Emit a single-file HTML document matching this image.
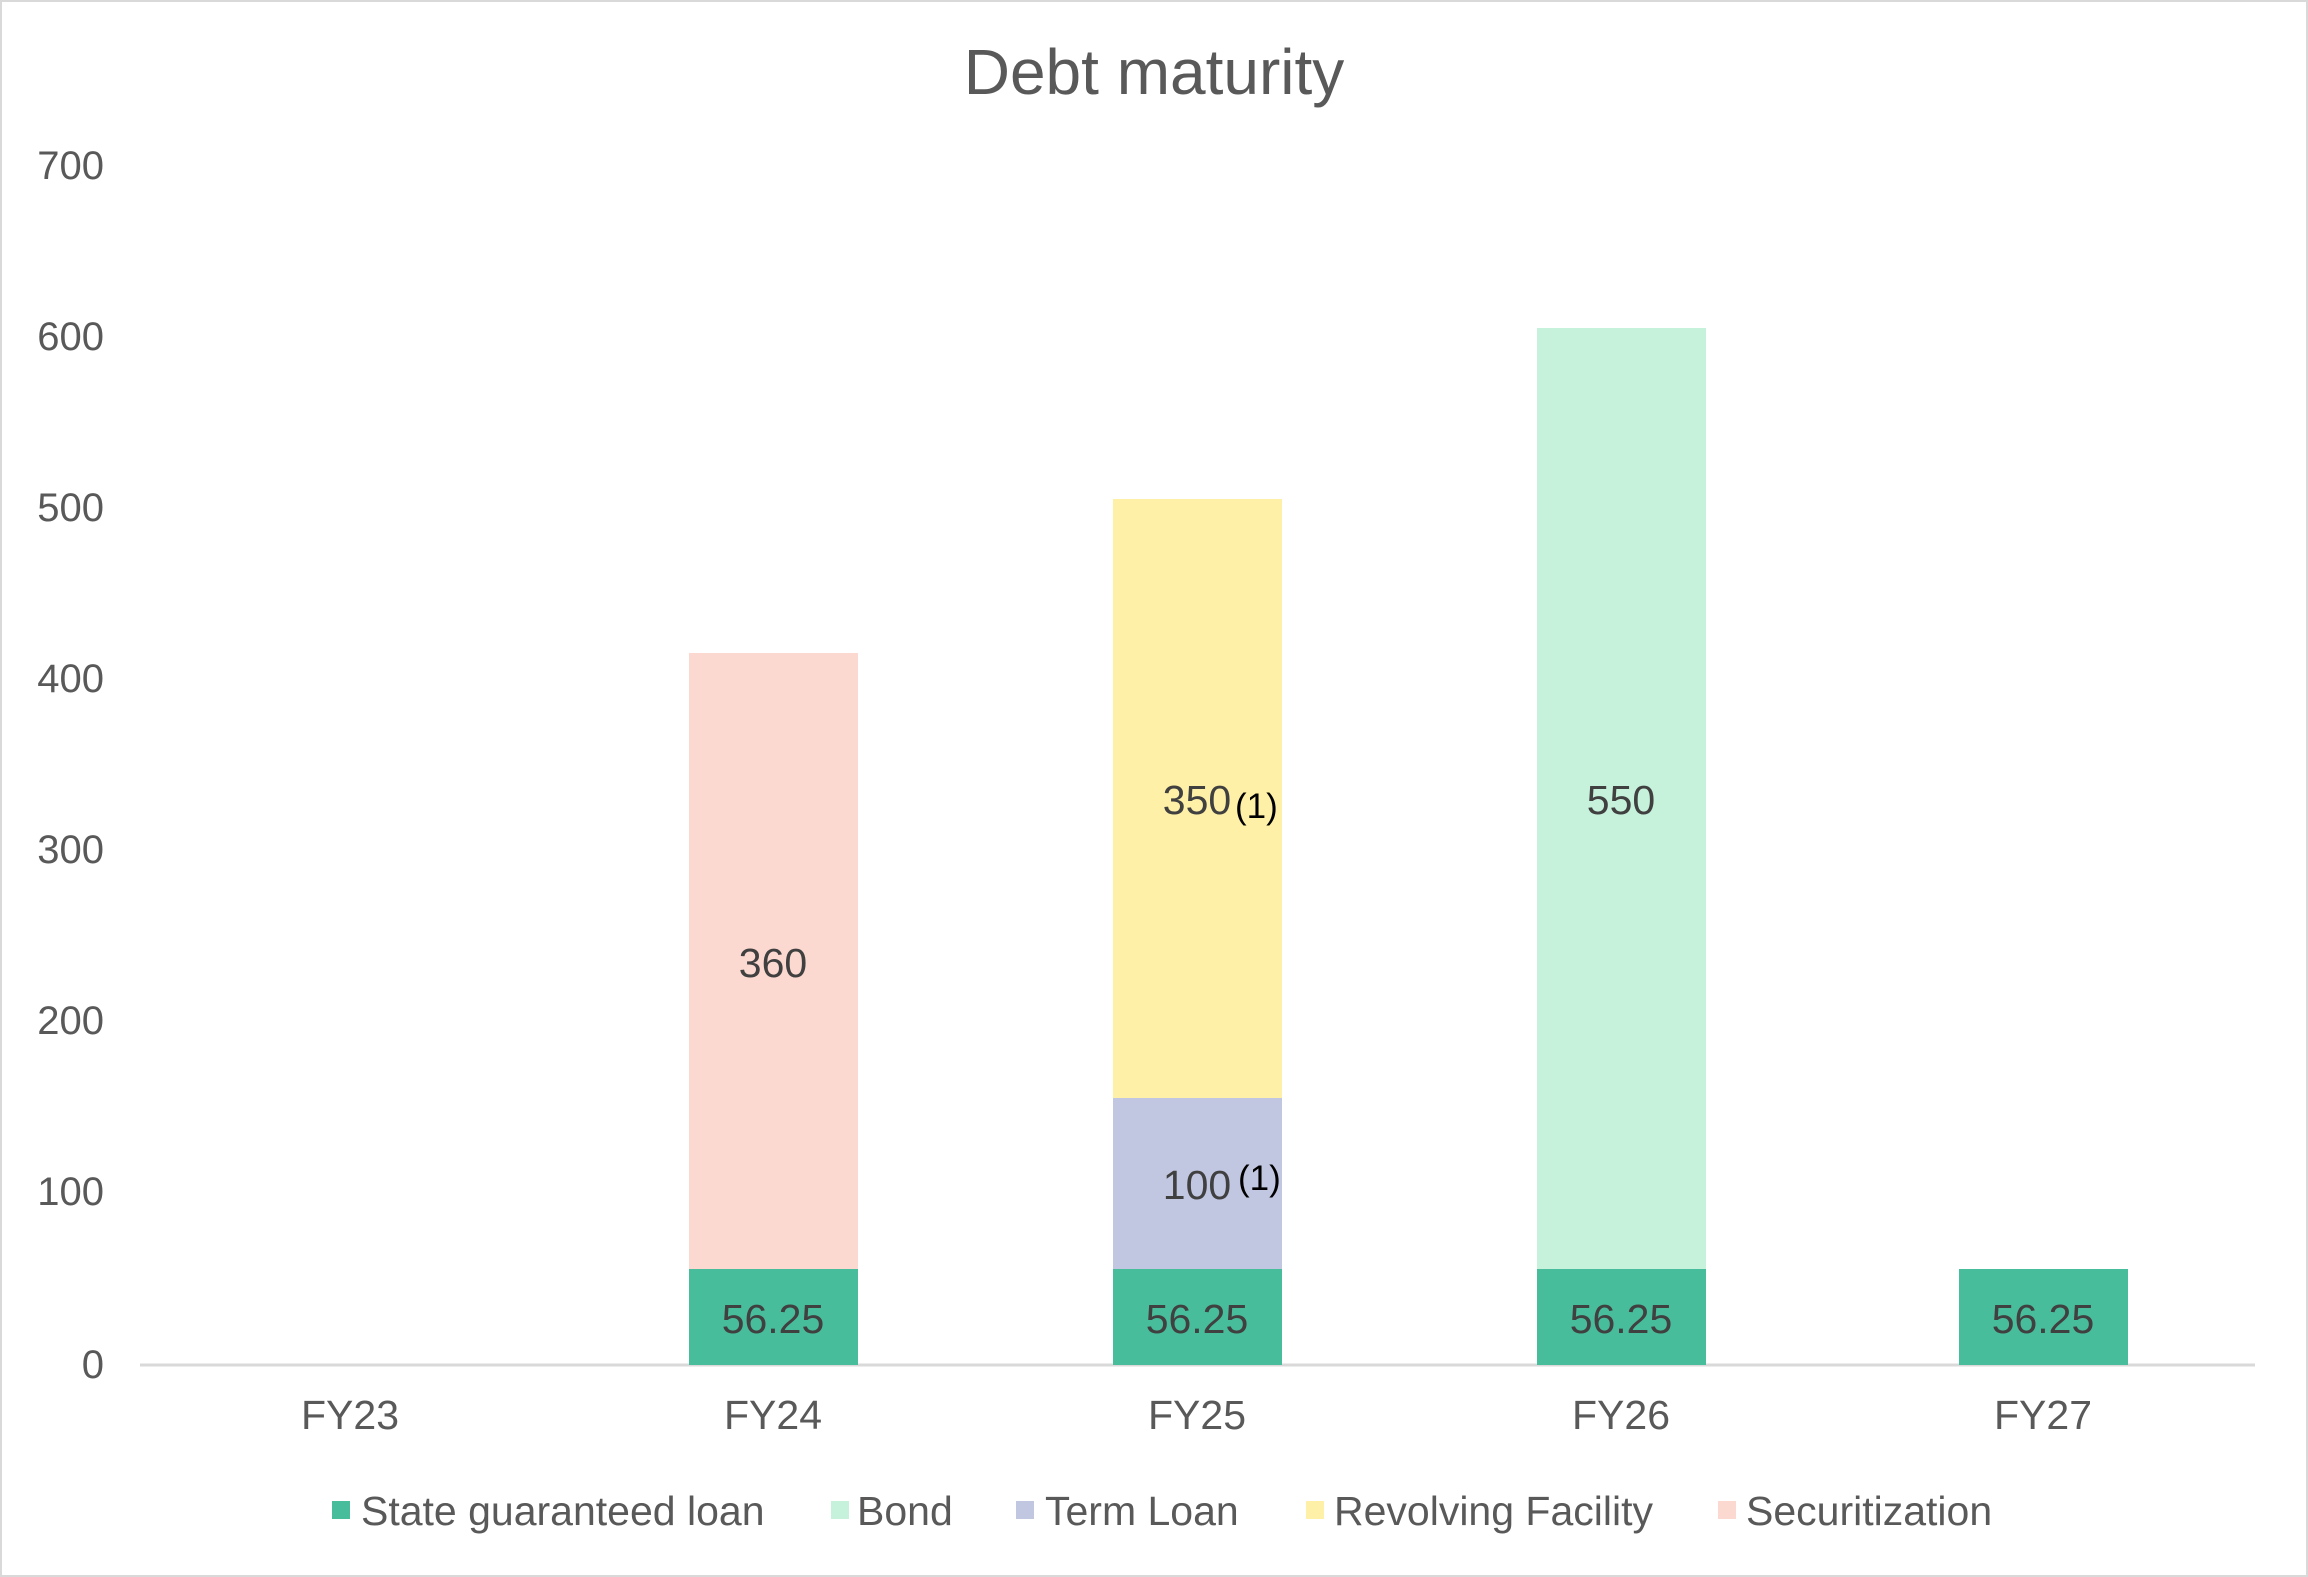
<!DOCTYPE html>
<html><head><style>html,body{margin:0;padding:0;background:#fff}svg{display:block}</style></head>
<body>
<svg width="2308" height="1577" viewBox="0 0 2308 1577" xmlns="http://www.w3.org/2000/svg" font-family="Liberation Sans, Arial, sans-serif">
<rect x="1" y="1" width="2306" height="1575" fill="#fff" stroke="#d9d9d9" stroke-width="2"/>
<text x="1154" y="94" text-anchor="middle" font-size="64" fill="#595959">Debt maturity</text>
<g font-size="40" fill="#595959" text-anchor="end">
<text x="104" y="179">700</text><text x="104" y="350">600</text><text x="104" y="521">500</text>
<text x="104" y="692">400</text><text x="104" y="863">300</text><text x="104" y="1034">200</text>
<text x="104" y="1205">100</text><text x="104" y="1378">0</text>
</g>
<line x1="140" y1="1365" x2="2255" y2="1365" stroke="#d9d9d9" stroke-width="3"/>
<rect x="689" y="653" width="169" height="616" fill="#FCD9D0"/>
<rect x="689" y="1269" width="169" height="96" fill="#48BD9B"/>
<rect x="1113" y="499" width="169" height="599" fill="#FEF0A6"/>
<rect x="1113" y="1098" width="169" height="171" fill="#C2C7E1"/>
<rect x="1113" y="1269" width="169" height="96" fill="#48BD9B"/>
<rect x="1537" y="328" width="169" height="941" fill="#C6F1DB"/>
<rect x="1537" y="1269" width="169" height="96" fill="#48BD9B"/>
<rect x="1959" y="1269" width="169" height="96" fill="#48BD9B"/>
<g font-size="41" fill="#404040" text-anchor="middle">
<text x="773" y="1333">56.25</text><text x="1197" y="1333">56.25</text>
<text x="1621" y="1333">56.25</text><text x="2043" y="1333">56.25</text>
<text x="773" y="977">360</text><text x="1621" y="814">550</text>
<text x="1197" y="814">350</text><text x="1197" y="1199">100</text>
</g>
<g font-size="35" fill="#000">
<text x="1235" y="818">(1)</text><text x="1238" y="1190">(1)</text>
</g>
<g font-size="41" fill="#595959" text-anchor="middle">
<text x="350" y="1429">FY23</text><text x="773" y="1429">FY24</text><text x="1197" y="1429">FY25</text>
<text x="1621" y="1429">FY26</text><text x="2043" y="1429">FY27</text>
</g>
<g font-size="41" fill="#595959">
<rect x="332" y="1501" width="18" height="18" fill="#48BD9B"/><text x="361" y="1525">State guaranteed loan</text>
<rect x="831" y="1501" width="18" height="18" fill="#C6F1DB"/><text x="857" y="1525">Bond</text>
<rect x="1016" y="1501" width="18" height="18" fill="#C2C7E1"/><text x="1045" y="1525">Term Loan</text>
<rect x="1306" y="1501" width="18" height="18" fill="#FEF0A6"/><text x="1334" y="1525">Revolving Facility</text>
<rect x="1718" y="1501" width="18" height="18" fill="#FCD9D0"/><text x="1746" y="1525">Securitization</text>
</g>
</svg>
</body></html>
